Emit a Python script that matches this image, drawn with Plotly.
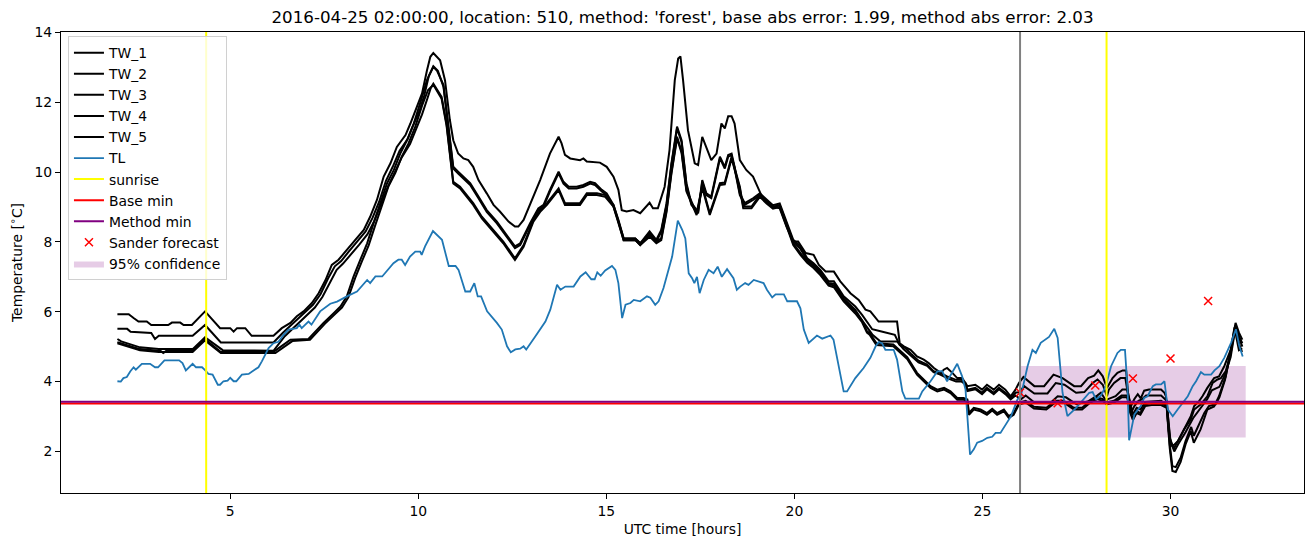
import plotly.graph_objects as go

# ---------------- data ----------------
tw1 = [(2.0,5.93),(2.3,5.93),(2.43,5.82),(2.56,5.72),(2.78,5.72),(2.9,5.62),(3.35,5.62),(3.45,5.69),(3.67,5.69),(3.76,5.62),(3.98,5.62),(4.33,6.01),(4.73,5.53),(5.0,5.53),(5.09,5.43),(5.18,5.53),(5.4,5.53),(5.57,5.31),(6.15,5.31),(6.37,5.53),(6.6,5.68),(6.77,5.87),(6.95,6.01),(7.17,6.25),(7.35,6.53),(7.53,6.9),(7.7,7.34),(7.88,7.49),(8.1,7.77),(8.32,8.06),(8.55,8.34),(8.72,8.72),(8.9,9.2),(9.08,9.87),(9.26,10.25),(9.43,10.72),(9.66,11.06),(9.79,11.39),(9.97,11.87),(10.1,12.25),(10.23,12.91),(10.32,13.3),(10.4,13.41),(10.58,13.2),(10.71,12.63),(10.84,11.49),(10.93,10.91),(11.06,10.53),(11.2,10.39),(11.33,10.34),(11.46,10.15),(11.6,9.77),(11.82,9.39),(12.0,9.06),(12.17,8.87),(12.4,8.58),(12.57,8.44),(12.66,8.44),(12.8,8.63),(13.06,9.3),(13.24,9.77),(13.5,10.53),(13.73,11.01),(13.81,10.82),(13.9,10.49),(14.04,10.39),(14.3,10.34),(14.39,10.39),(14.48,10.3),(14.83,10.27),(15.01,10.15),(15.19,9.87),(15.32,9.49),(15.41,8.91),(15.54,8.87),(15.72,8.91),(15.9,8.82),(16.15,9.12),(16.24,8.96),(16.37,8.96),(16.55,9.58),(16.68,10.63),(16.82,12.63),(16.91,13.25),(16.97,13.31),(17.04,12.63),(17.17,11.2),(17.35,10.25),(17.44,10.2),(17.55,11.01),(17.66,10.68),(17.79,10.34),(17.93,10.53),(18.06,11.39),(18.15,11.25),(18.24,11.6),(18.33,11.6),(18.41,11.39),(18.55,10.34),(18.72,10.06),(18.9,9.87),(19.03,9.58),(19.12,9.34),(19.26,9.15),(19.43,9.01),(19.61,8.96),(19.79,8.44),(19.97,8.01),(20.1,8.01),(20.3,7.68),(20.51,7.63),(20.65,7.34),(20.83,7.15),(21.05,7.15),(21.22,6.87),(21.49,6.53),(21.71,6.34),(21.89,6.06),(22.02,6.01),(22.24,5.72),(22.73,5.72),(22.8,5.1),(22.91,5.01),(23.09,4.91),(23.26,4.72),(23.44,4.63),(23.57,4.53),(23.71,4.39),(23.89,4.25),(23.97,4.34),(24.06,4.39),(24.2,4.25),(24.33,4.1),(24.46,4.1),(24.55,3.96),(24.6,3.87),(24.81,3.91),(24.99,3.77),(25.12,3.91),(25.3,3.77),(25.44,3.91),(25.61,3.77),(25.75,3.58),(25.88,3.77),(25.97,3.96),(26.09,4.13),(26.38,3.87),(26.64,3.87),(26.89,4.2),(27.13,4.1),(27.44,3.87),(27.62,3.87),(27.81,4.1),(27.97,4.17),(28.08,4.32),(28.2,4.15),(28.31,3.82),(28.46,4.1),(28.59,4.25),(28.73,4.32),(28.82,4.32),(28.88,3.58),(28.95,3.3),(29.04,3.5),(29.13,3.64),(29.21,3.52),(29.3,3.74),(29.43,3.77),(29.75,3.77),(29.84,3.68),(29.88,3.58),(29.95,2.6),(30.01,2.2),(30.1,2.1),(30.27,2.44),(30.45,2.82),(30.54,3.01),(30.63,3.3),(30.76,3.44),(30.85,3.58),(30.98,3.82),(31.16,4.1),(31.29,4.15),(31.43,4.44),(31.6,4.91),(31.73,5.68),(31.82,5.4),(31.91,5.2)]

tw2 = [(2.0,5.51),(2.26,5.51),(2.35,5.43),(2.9,5.39),(3.0,5.22),(3.1,5.31),(4.0,5.31),(4.33,5.62),(4.75,5.12),(6.15,5.12),(6.4,5.4),(6.6,5.6),(6.8,5.8),(7.0,5.98),(7.2,6.2),(7.4,6.5),(7.6,6.95),(7.78,7.3),(7.95,7.45),(8.15,7.72),(8.38,8.0),(8.6,8.3),(8.78,8.68),(8.96,9.15),(9.14,9.75),(9.32,10.15),(9.5,10.6),(9.72,10.95),(9.85,11.3),(10.03,11.75),(10.16,12.2),(10.28,12.75),(10.4,13.01),(10.5,12.9),(10.67,12.49),(10.84,10.91),(10.93,10.15),(11.06,10.01),(11.2,9.87),(11.38,9.68),(11.6,9.3),(11.82,8.91),(12.09,8.58),(12.35,8.2),(12.57,7.87),(12.71,7.96),(12.97,8.53),(13.19,8.96),(13.33,9.06),(13.5,9.49),(13.73,10.01),(13.86,9.72),(14.0,9.58),(14.21,9.58),(14.39,9.63),(14.57,9.72),(14.7,9.68),(14.88,9.49),(15.01,9.39),(15.19,9.06),(15.32,8.63),(15.46,8.1),(15.59,8.1),(15.77,8.1),(15.9,7.96),(16.15,8.3),(16.33,8.06),(16.46,8.34),(16.6,9.1),(16.73,10.25),(16.88,11.3),(17.0,10.91),(17.13,9.68),(17.26,9.11),(17.44,8.87),(17.55,9.77),(17.66,9.39),(17.79,9.3),(18.02,10.44),(18.15,10.15),(18.24,10.49),(18.33,10.53),(18.41,10.15),(18.55,9.39),(18.68,9.11),(18.9,9.25),(19.08,9.39),(19.26,9.2),(19.43,9.05),(19.61,9.1),(19.79,8.6),(19.97,8.06),(20.16,7.87),(20.34,7.53),(20.51,7.39),(20.69,7.2),(20.91,6.87),(21.05,6.87),(21.31,6.44),(21.62,6.15),(21.8,5.91),(21.93,5.72),(22.07,5.5),(22.29,5.44),(22.67,5.34),(22.8,5.05),(22.95,4.96),(23.1,4.8),(23.3,4.6),(23.53,4.49),(23.7,4.3),(23.88,4.25),(24.06,4.15),(24.3,4.05),(24.45,4.05),(24.55,3.96),(24.6,3.77),(24.81,3.82),(24.99,3.68),(25.12,3.82),(25.3,3.68),(25.44,3.82),(25.61,3.68),(25.75,3.53),(25.88,3.68),(25.98,3.7),(26.11,3.87),(26.38,3.66),(26.73,3.66),(26.95,3.96),(27.18,3.91),(27.49,3.68),(27.71,3.7),(27.93,3.96),(28.06,4.06),(28.2,3.91),(28.31,3.58),(28.36,3.77),(28.5,3.96),(28.67,4.1),(28.8,4.1),(28.89,3.49),(28.95,3.1),(29.04,3.3),(29.15,3.45),(29.25,3.5),(29.35,3.6),(29.75,3.6),(29.85,3.5),(29.9,3.45),(29.98,2.4),(30.06,2.15),(30.2,2.3),(30.36,2.63),(30.54,2.92),(30.63,3.2),(30.8,3.34),(30.98,3.58),(31.12,3.96),(31.25,4.06),(31.34,4.1),(31.47,4.3),(31.6,4.8),(31.73,5.6),(31.82,5.3),(31.91,5.1)]

tw3 = [(2.0,5.22),(2.1,5.15),(2.6,4.98),(3.1,4.93),(4.0,4.93),(4.33,5.27),(4.8,4.9),(6.15,4.88),(6.45,5.3),(6.65,5.5),(6.85,5.72),(7.05,5.92),(7.25,6.12),(7.45,6.42),(7.65,6.85),(7.83,7.2),(8.0,7.38),(8.2,7.62),(8.43,7.92),(8.65,8.22),(8.83,8.6),(9.0,9.05),(9.2,9.6),(9.38,10.0),(9.56,10.42),(9.78,10.8),(9.92,11.15),(10.1,11.65),(10.24,12.1),(10.33,12.4),(10.4,12.53),(10.62,12.15),(10.75,11.39),(10.93,9.72),(11.11,9.58),(11.29,9.34),(11.46,9.11),(11.69,8.72),(12.0,8.34),(12.26,8.01),(12.57,7.53),(12.8,7.91),(13.06,8.63),(13.24,8.91),(13.42,9.11),(13.73,9.53),(13.9,9.11),(14.08,9.11),(14.3,9.11),(14.48,9.39),(14.75,9.39),(14.97,9.34),(15.19,9.06),(15.32,8.63),(15.46,8.1),(15.77,8.1),(15.9,7.96),(16.15,8.2),(16.33,8.01),(16.46,8.1),(16.6,8.9),(16.73,10.0),(16.88,11.01),(17.0,10.6),(17.13,9.49),(17.4,8.82),(17.55,9.6),(17.75,8.82),(18.02,9.68),(18.15,9.7),(18.33,10.44),(18.55,9.58),(18.64,9.01),(18.86,9.01),(19.08,9.34),(19.26,9.15),(19.43,9.0),(19.61,9.05),(19.79,8.5),(19.97,7.96),(20.16,7.68),(20.34,7.45),(20.51,7.3),(20.69,7.1),(20.91,6.8),(21.05,6.75),(21.31,6.35),(21.62,6.0),(21.8,5.75),(21.93,5.55),(22.07,5.35),(22.29,5.15),(22.73,5.15),(22.9,4.93),(23.1,4.75),(23.3,4.55),(23.53,4.45),(23.7,4.27),(23.88,4.2),(24.06,4.1),(24.3,4.0),(24.45,4.0),(24.55,3.92),(24.6,3.73),(24.81,3.78),(24.99,3.64),(25.12,3.78),(25.3,3.64),(25.44,3.78),(25.61,3.64),(25.75,3.49),(25.88,3.6),(26.02,3.49),(26.15,3.6),(26.38,3.4),(26.82,3.4),(27.0,3.58),(27.22,3.55),(27.5,3.35),(27.8,3.43),(28.05,3.6),(28.15,3.68),(28.3,3.43),(28.32,3.49),(28.54,3.58),(28.72,3.77),(28.85,3.77),(28.94,3.3),(29.0,3.05),(29.1,3.25),(29.2,3.2),(29.33,3.42),(29.75,3.45),(29.85,3.38),(29.9,3.35),(30.0,2.3),(30.1,2.0),(30.2,2.2),(30.4,2.55),(30.6,2.95),(30.8,3.25),(30.98,3.5),(31.1,3.75),(31.3,3.85),(31.47,4.25),(31.6,4.7),(31.73,5.55),(31.91,5.0)]

tw4 = [(2.0,5.13),(2.6,4.93),(3.15,4.88),(3.22,4.82),(3.3,4.88),(4.0,4.88),(4.33,5.22),(4.75,4.85),(6.15,4.85),(6.42,5.06),(6.6,5.2),(7.08,5.22),(7.26,5.44),(7.48,5.68),(7.75,5.96),(7.93,6.15),(8.1,6.44),(8.28,7.01),(8.46,7.49),(8.64,7.96),(8.81,8.53),(8.99,9.1),(9.17,9.68),(9.35,10.06),(9.52,10.53),(9.7,10.91),(9.88,11.39),(10.06,12.01),(10.23,12.63),(10.4,13.03),(10.52,12.9),(10.67,12.44),(10.84,10.86),(10.93,10.1),(11.06,9.96),(11.2,9.82),(11.38,9.63),(11.6,9.25),(11.82,8.86),(12.09,8.53),(12.35,8.15),(12.57,7.82),(12.71,7.91),(12.97,8.48),(13.19,8.91),(13.33,9.01),(13.5,9.44),(13.73,9.96),(13.86,9.67),(14.0,9.53),(14.21,9.53),(14.39,9.58),(14.57,9.67),(14.7,9.63),(14.88,9.44),(15.01,9.34),(15.19,9.01),(15.32,8.58),(15.46,8.05),(15.59,8.05),(15.77,8.05),(15.9,7.91),(16.15,8.25),(16.33,8.01),(16.46,8.29),(16.6,9.05),(16.73,10.2),(16.88,11.25),(17.0,10.86),(17.13,9.63),(17.26,9.06),(17.44,8.82),(17.55,9.72),(17.66,9.34),(17.79,9.25),(18.02,10.39),(18.15,10.1),(18.24,10.44),(18.33,10.48),(18.41,10.1),(18.55,9.34),(18.68,9.06),(18.9,9.2),(19.08,9.34),(19.26,9.15),(19.43,9.0),(19.61,9.05),(19.79,8.55),(19.97,8.01),(20.16,7.8),(20.34,7.48),(20.51,7.34),(20.69,7.15),(20.91,6.82),(21.05,6.8),(21.31,6.38),(21.62,6.05),(21.8,5.75),(21.93,5.44),(22.0,5.39),(22.18,5.1),(22.63,5.06),(22.8,4.9),(23.0,4.7),(23.26,4.25),(23.44,4.05),(23.62,3.87),(23.8,3.77),(23.98,3.82),(24.15,3.72),(24.33,3.53),(24.5,3.53),(24.6,3.49),(24.64,3.1),(24.77,3.25),(24.95,3.2),(25.12,3.1),(25.26,3.22),(25.39,3.1),(25.57,3.2),(25.7,3.01),(25.83,3.1),(25.97,3.39),(26.15,3.45),(26.37,3.28),(26.7,3.25),(26.94,3.45),(27.16,3.45),(27.43,3.25),(27.65,3.25),(27.87,3.45),(28.05,3.55),(28.2,3.5),(28.3,3.4),(28.5,3.45),(28.7,3.6),(28.85,3.6),(28.93,3.15),(29.0,2.95),(29.1,3.15),(29.2,3.1),(29.33,3.35),(29.5,3.38),(29.75,3.38),(29.9,3.3),(29.98,2.2),(30.05,1.58),(30.14,1.55),(30.27,1.82),(30.4,2.3),(30.55,2.7),(30.62,2.45),(30.75,2.75),(30.9,3.1),(31.02,3.3),(31.2,3.35),(31.3,3.55),(31.45,4.05),(31.6,4.85),(31.7,5.55),(31.82,4.9),(31.91,4.95)]

tw5 = [(2.0,5.1),(2.6,4.9),(3.1,4.85),(4.0,4.85),(4.33,5.18),(4.75,4.82),(6.2,4.82),(6.45,5.02),(6.65,5.16),(7.12,5.2),(7.3,5.42),(7.52,5.66),(7.78,5.93),(7.97,6.12),(8.14,6.41),(8.32,6.96),(8.5,7.44),(8.68,7.9),(8.85,8.46),(9.03,9.02),(9.21,9.6),(9.39,9.98),(9.56,10.44),(9.74,10.82),(9.92,11.3),(10.1,11.9),(10.26,12.35),(10.4,12.5),(10.62,12.1),(10.75,11.34),(10.93,9.67),(11.11,9.53),(11.29,9.29),(11.46,9.06),(11.69,8.67),(12.0,8.29),(12.26,7.96),(12.57,7.48),(12.8,7.86),(13.06,8.58),(13.24,8.86),(13.42,9.06),(13.73,9.48),(13.9,9.06),(14.08,9.06),(14.3,9.06),(14.48,9.34),(14.75,9.34),(14.97,9.29),(15.19,9.01),(15.32,8.58),(15.46,8.05),(15.77,8.05),(15.9,7.91),(16.15,8.15),(16.33,7.96),(16.46,8.05),(16.6,8.85),(16.73,9.95),(16.88,10.96),(17.0,10.55),(17.13,9.44),(17.4,8.77),(17.55,9.55),(17.75,8.77),(18.02,9.63),(18.15,9.65),(18.33,10.39),(18.55,9.53),(18.64,8.96),(18.86,8.96),(19.08,9.29),(19.26,9.1),(19.43,8.95),(19.61,9.0),(19.79,8.45),(19.97,7.91),(20.16,7.63),(20.34,7.4),(20.51,7.25),(20.69,7.05),(20.91,6.75),(21.05,6.7),(21.31,6.3),(21.62,5.95),(21.8,5.7),(21.93,5.4),(22.0,5.34),(22.18,5.05),(22.63,5.01),(22.8,4.85),(23.0,4.65),(23.26,4.2),(23.44,4.0),(23.62,3.82),(23.8,3.72),(23.98,3.77),(24.15,3.67),(24.33,3.48),(24.5,3.48),(24.6,3.44),(24.64,3.05),(24.77,3.2),(24.95,3.15),(25.12,3.05),(25.26,3.17),(25.39,3.05),(25.57,3.15),(25.7,2.96),(25.83,3.05),(25.97,3.34),(26.15,3.4),(26.37,3.23),(26.7,3.2),(26.94,3.4),(27.16,3.4),(27.43,3.2),(27.65,3.2),(27.87,3.4),(28.05,3.5),(28.2,3.45),(28.3,3.35),(28.5,3.4),(28.7,3.55),(28.85,3.55),(28.93,3.1),(29.0,2.9),(29.1,3.1),(29.2,3.05),(29.33,3.3),(29.5,3.33),(29.75,3.33),(29.9,3.25),(29.98,2.1),(30.05,1.44),(30.14,1.41),(30.27,1.7),(30.4,2.2),(30.54,2.58),(30.62,2.25),(30.8,2.63),(30.98,3.2),(31.16,3.29),(31.29,3.58),(31.47,4.15),(31.69,5.39),(31.73,5.5),(31.87,4.91),(31.91,4.85)]

tl = [(2.0,4.01),(2.09,4.0),(2.16,4.1),(2.25,4.13),(2.34,4.29),(2.43,4.41),(2.49,4.34),(2.65,4.51),(2.87,4.51),(3.0,4.41),(3.08,4.41),(3.25,4.61),(3.64,4.61),(3.73,4.53),(3.82,4.32),(4.0,4.51),(4.09,4.41),(4.25,4.41),(4.33,4.33),(4.42,4.22),(4.53,4.2),(4.67,3.91),(4.73,3.91),(4.82,4.01),(4.93,4.03),(5.0,4.11),(5.09,4.01),(5.16,4.01),(5.31,4.2),(5.49,4.22),(5.62,4.32),(5.75,4.41),(5.84,4.58),(5.93,4.77),(6.02,4.96),(6.15,5.1),(6.28,5.14),(6.42,5.34),(6.55,5.49),(6.77,5.53),(6.84,5.63),(6.9,5.53),(7.08,5.72),(7.16,5.63),(7.39,6.01),(7.66,6.23),(7.84,6.29),(8.1,6.44),(8.37,6.58),(8.64,6.91),(8.72,6.82),(8.86,7.01),(9.04,7.01),(9.34,7.39),(9.47,7.49),(9.56,7.49),(9.65,7.34),(9.78,7.58),(9.92,7.72),(10.05,7.72),(10.09,7.63),(10.18,7.87),(10.39,8.31),(10.63,8.06),(10.81,7.31),(10.99,7.31),(11.07,7.2),(11.25,6.58),(11.38,6.58),(11.49,6.82),(11.58,6.44),(11.67,6.44),(11.83,6.01),(12.09,5.68),(12.22,5.49),(12.36,5.01),(12.46,4.84),(12.58,4.92),(12.71,4.94),(12.8,5.01),(12.87,4.92),(13.11,5.29),(13.38,5.72),(13.51,6.06),(13.69,6.77),(13.78,6.63),(13.91,6.72),(14.13,6.72),(14.31,7.01),(14.45,7.13),(14.6,6.93),(14.69,6.93),(14.76,7.13),(14.85,7.03),(14.97,7.18),(15.15,7.31),(15.24,7.2),(15.32,6.82),(15.42,5.82),(15.51,6.2),(15.64,6.25),(15.73,6.34),(15.9,6.3),(16.08,6.44),(16.17,6.4),(16.3,6.2),(16.39,6.3),(16.52,6.68),(16.61,7.06),(16.75,7.58),(16.9,8.61),(17.02,8.34),(17.1,8.1),(17.19,7.1),(17.28,6.96),(17.34,6.82),(17.41,7.0),(17.48,6.53),(17.59,6.91),(17.72,7.2),(17.85,7.1),(17.96,7.29),(18.07,7.0),(18.21,7.22),(18.38,6.96),(18.47,6.63),(18.56,6.72),(18.69,6.82),(18.78,6.77),(18.92,6.91),(19.18,6.82),(19.27,6.63),(19.41,6.41),(19.5,6.5),(19.72,6.5),(19.81,6.3),(20.07,6.3),(20.16,6.1),(20.25,5.49),(20.38,5.11),(20.6,5.32),(20.74,5.23),(20.96,5.32),(21.04,5.2),(21.31,3.72),(21.4,3.72),(21.62,4.1),(21.84,4.39),(22.02,4.68),(22.16,5.01),(22.24,5.13),(22.33,5.1),(22.42,4.91),(22.64,4.91),(22.73,4.63),(22.87,3.72),(22.95,3.51),(23.31,3.51),(23.4,3.72),(23.62,4.01),(23.8,4.29),(23.93,4.3),(24.06,4.01),(24.33,4.51),(24.46,4.15),(24.55,3.77),(24.67,1.91),(24.77,2.06),(24.86,2.25),(24.99,2.3),(25.13,2.39),(25.26,2.42),(25.35,2.53),(25.48,2.53),(25.76,3.01),(25.93,3.49),(26.02,3.58),(26.2,4.44),(26.33,4.91),(26.42,4.82),(26.55,5.11),(26.69,5.23),(26.77,5.28),(26.91,5.51),(27.0,5.25),(27.13,3.68),(27.26,3.01),(27.49,3.25),(27.71,3.53),(27.84,3.68),(27.93,3.7),(28.02,3.49),(28.15,3.6),(28.28,3.87),(28.42,4.44),(28.59,4.82),(28.68,4.91),(28.79,4.91),(28.86,3.77),(28.9,2.32),(29.04,3.06),(29.13,3.2),(29.21,3.3),(29.3,3.53),(29.39,3.58),(29.53,3.87),(29.61,3.92),(29.75,3.92),(29.84,4.01),(29.93,3.2),(30.06,3.01),(30.19,3.2),(30.32,3.39),(30.46,3.58),(30.59,3.87),(30.68,4.01),(30.81,4.27),(30.9,4.2),(31.08,4.2),(31.17,4.32),(31.3,4.44),(31.43,4.68),(31.61,5.11),(31.74,5.5),(31.83,5.02),(31.92,4.72)]

sunrise_hours = [4.36, 28.3]
forecast_start = 26.0
base_min = 3.375
method_min = 3.425
sander_hours = [26, 27, 28, 29, 30, 31]
sander_temp = [3.69, 3.38, 3.89, 4.09, 4.66, 6.31]
conf_hours = [26.0, 32.0]
conf_temp = [2.40, 4.45]

title_text = "2016-04-25 02:00:00, location: 510, method: 'forest', base abs error: 1.99, method abs error: 2.03"
x_ticks = [5, 10, 15, 20, 25, 30]
y_ticks = [2, 4, 6, 8, 10, 12, 14]

# ---------------- figure ----------------
FONT = "DejaVu Sans"
FS = 13.9
fig = go.Figure()

for name, series in [("TW_1", tw1), ("TW_2", tw2), ("TW_3", tw3), ("TW_4", tw4), ("TW_5", tw5)]:
    fig.add_trace(go.Scatter(x=[p[0] for p in series], y=[p[1] for p in series],
                             mode="lines", name=name, line=dict(color="black", width=2)))

fig.add_trace(go.Scatter(x=[p[0] for p in tl], y=[p[1] for p in tl], mode="lines", name="TL",
                         line=dict(color="#1f77b4", width=1.8)))

# legend entries for reference lines (the lines themselves are shapes)
fig.add_trace(go.Scatter(x=[None], y=[None], mode="lines", name="sunrise", line=dict(color="yellow", width=2)))
fig.add_trace(go.Scatter(x=[None], y=[None], mode="lines", name="Base min", line=dict(color="red", width=2)))
fig.add_trace(go.Scatter(x=[None], y=[None], mode="lines", name="Method min", line=dict(color="purple", width=2)))

fig.add_trace(go.Scatter(x=sander_hours, y=sander_temp, mode="markers", name="Sander forecast",
                         marker=dict(symbol="x-thin", size=8, color="red", line=dict(color="red", width=1.5))))

fig.add_trace(go.Scatter(x=[None], y=[None], mode="lines", name="95% confidence", fill="toself",
                         fillcolor="rgba(128,0,128,0.2)", line=dict(width=0, color="rgba(128,0,128,0.2)")))

shapes = []
shapes.append(dict(type="rect", xref="x", yref="y", x0=conf_hours[0], x1=conf_hours[1],
                   y0=conf_temp[0], y1=conf_temp[1], fillcolor="rgba(128,0,128,0.2)",
                   line=dict(width=0), layer="below"))
shapes.append(dict(type="line", xref="x", yref="paper", x0=forecast_start, x1=forecast_start, y0=0, y1=1,
                   line=dict(color="gray", width=2), layer="above"))
for s in sunrise_hours:
    shapes.append(dict(type="line", xref="x", yref="paper", x0=s, x1=s, y0=0, y1=1,
                       line=dict(color="yellow", width=2), layer="above"))
shapes.append(dict(type="line", xref="paper", yref="y", x0=0, x1=1, y0=base_min, y1=base_min,
                   line=dict(color="red", width=2), layer="above"))
shapes.append(dict(type="line", xref="paper", yref="y", x0=0, x1=1, y0=method_min, y1=method_min,
                   line=dict(color="purple", width=2), layer="above"))

fig.update_layout(
    width=1310, height=547,
    margin=dict(l=61, r=6, t=32, b=54),
    paper_bgcolor="white", plot_bgcolor="white",
    font=dict(family=FONT, size=FS, color="black"),
    title=dict(text=title_text, x=0.5, xref="paper", xanchor="center",
               y=1 - 17 / 547, yref="container", yanchor="middle",
               font=dict(family=FONT, size=16.7, color="black")),
    shapes=shapes,
    showlegend=True,
    legend=dict(x=0.0056, y=0.991, xanchor="left", yanchor="top",
                bgcolor="rgba(255,255,255,0.8)", bordercolor="#d0d0d0", borderwidth=1,
                font=dict(family=FONT, size=FS, color="black"), tracegroupgap=0),
    xaxis=dict(range=[0.5, 33.55], tickmode="array", tickvals=x_ticks, ticktext=[str(v) for v in x_ticks],
               showgrid=False, zeroline=False, showline=True, linecolor="black", linewidth=1, mirror=True,
               ticks="outside", ticklen=5, tickcolor="black", tickfont=dict(family=FONT, size=FS),
               title=dict(text="UTC time [hours]", standoff=6, font=dict(family=FONT, size=FS))),
    yaxis=dict(range=[0.81, 14.01], tickmode="array", tickvals=y_ticks, ticktext=[str(v) for v in y_ticks],
               showgrid=False, zeroline=False, showline=True, linecolor="black", linewidth=1, mirror=True,
               ticks="outside", ticklen=5, tickcolor="black", tickfont=dict(family=FONT, size=FS),
               title=dict(text="Temperature [<sup>∘</sup>C]", standoff=8, font=dict(family=FONT, size=FS))),
)

fig.write_html("out.html")
